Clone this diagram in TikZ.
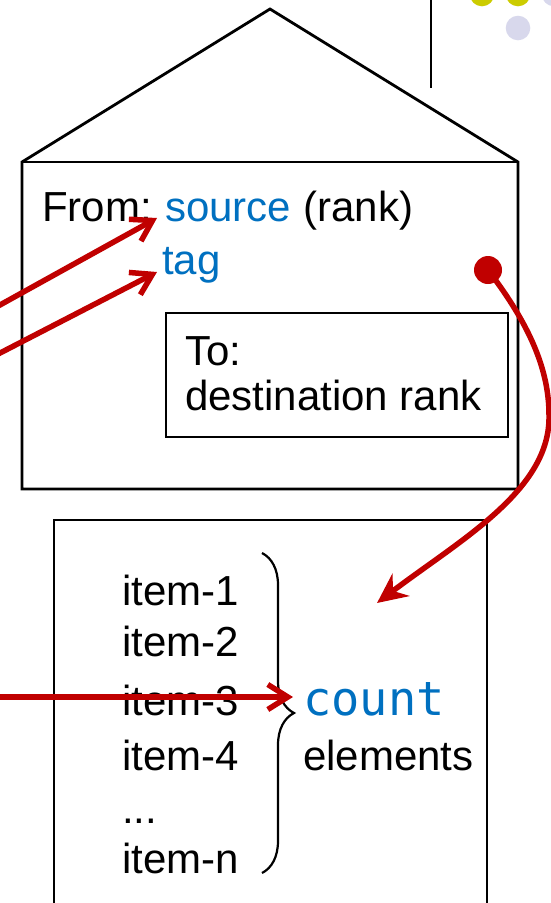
\documentclass[tikz,border=0pt]{standalone}
\usepackage{fontspec}
\setmainfont{Liberation Sans}
\newfontfamily\codefont{DejaVu Sans Mono}
\usetikzlibrary{arrows.meta,decorations.pathreplacing}
\definecolor{msgred}{RGB}{192,0,0}
\definecolor{msgblue}{RGB}{0,112,192}
\definecolor{dotyellow}{RGB}{204,204,0}
\definecolor{dotlilac}{RGB}{216,216,236}
\begin{document}
\begin{tikzpicture}[x=1pt,y=-1pt,
  outline/.style={line width=2.8pt, line join=miter},
  txt/.style={inner sep=0pt, anchor=base west, font=\fontsize{42}{50}\selectfont},
  hilite/.style={txt, text=msgblue},
  link/.style={draw=msgred, line width=5.5pt, -{Straight Barb[length=20pt,width=25pt]}},
]
\useasboundingbox (0,0) rectangle (550,903);

% decorative dots in the corner
\fill[dotyellow] (482,-6) circle (12.3pt);
\fill[dotyellow] (518,-6) circle (12.3pt);
\fill[dotlilac]  (554,-6) circle (12.3pt);
\fill[dotlilac]  (518,28) circle (12.3pt);
\draw[line width=2.8pt] (431,-5) -- (431,88);

% the envelope
\draw[outline] (22,489) -- (22,162) -- (270,9) -- (518,162) -- (518,489) -- cycle;
\draw[outline] (22,162) -- (518,162);
\draw[outline] (166,313) rectangle (508,437);

% the data buffer
\draw[outline] (54,910) -- (54,520) -- (487,520) -- (487,910);

% envelope texts
\node[txt]    (from) at (42,221)  {From:};
\node[hilite] (src)  at (165,221) {source};
\node[txt]    (rank) at ([xshift=12pt]src.base east) {(rank)};
\node[hilite] (tag)  at (162,274) {tag};
\node[txt]    (to)   at (185,365) {To:};
\node[txt]    (dest) at (185,410) {destination rank};

% buffer items
\node[txt] (i1) at (122,605) {item-1};
\node[txt] (i2) at (122,656) {item-2};
\node[txt] (i3) at (122,715) {item-3};
\node[txt] (i4) at (122,770) {item-4};
\node[txt] (id) at (122,823) {...};
\node[txt] (in) at (122,873) {item-n};
\draw[line width=2.2pt, decorate, decoration={brace, amplitude=32pt}] (262,553) -- (262,873);
\node[hilite, font=\codefont\fontsize{47}{50}\selectfont] (count) at (303,715) {count};
\node[txt] (elems) at (303,770) {elements};

% arguments pointing into the message
\coordinate (in1) at (-10,310.5);
\coordinate (in2) at (-10,358.2);
\coordinate (in3) at (-10,697);
\draw[link] (in1) -- ([shift={(-8pt,3pt)}]src.base west);
\draw[link] (in2) -- ([shift={(-5pt,2pt)}]tag.base west);
\draw[link] (in3) -- ([shift={(-10pt,18pt)}]count.base west);

% from the envelope to the buffer
\node[circle, fill=msgred, inner sep=0pt, minimum size=28pt] (dot) at (488,270) {};
\coordinate (drop) at (377,603);
\draw[msgred, line width=5.5pt, -{Stealth[length=30pt,width=28pt,inset=10pt]}]
  (dot.center) .. controls (530,325) and (549,370) .. (549,415)
  .. controls (551,490) and (460,540) .. (drop);
\end{tikzpicture}
\end{document}
